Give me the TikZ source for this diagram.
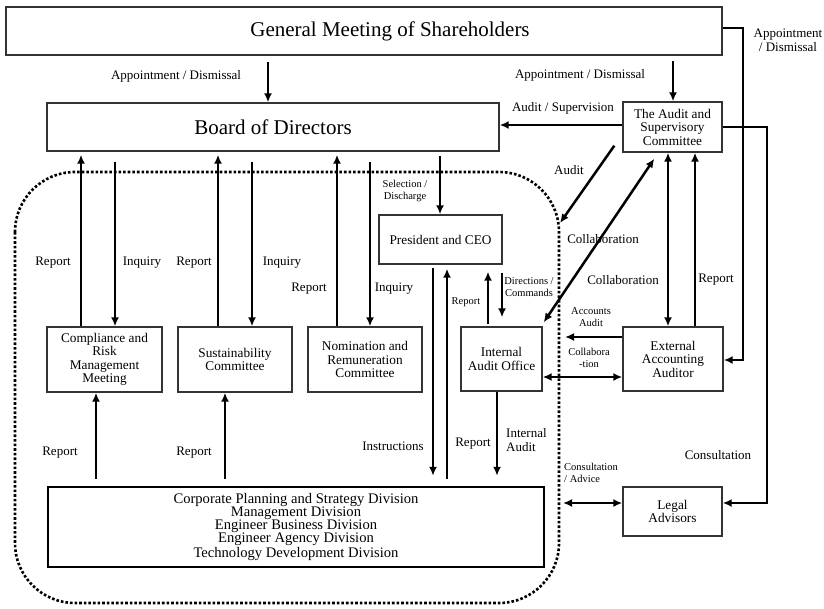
\documentclass[tikz,border=0pt]{standalone}
\usepackage{fontspec}
\setmainfont{Liberation Serif}
\usetikzlibrary{arrows.meta,positioning}

\tikzset{
  box/.style={draw=black!80, line width=1.4pt, inner sep=0pt, align=center,
    font=\fontsize{13.3}{13.5}\selectfont},
  lbl/.style={inner sep=1pt, align=center, font=\fontsize{13}{14}\selectfont},
  slbl/.style={inner sep=1pt, align=center, font=\fontsize{10.5}{12}\selectfont},
  arr/.style={line width=2.5pt, -{Latex[length=9pt,width=8pt]}},
  darr/.style={line width=2.5pt, {Latex[length=9pt,width=8pt]}-{Latex[length=9pt,width=8pt]}}
}

\begin{document}
\begin{tikzpicture}[x=1pt,y=-1pt]
  \useasboundingbox (0,0) rectangle (824,608);
  % boundary of the executive side
  \draw[line width=2.6pt, dotted, rounded corners=60pt] (15,172) rectangle (559,603);

  % boxes
  \node[box, minimum width=716, minimum height=48, font=\fontsize{21}{22}\selectfont] (gm) at (364,31)
    {\hspace*{52pt}General Meeting of Shareholders};
  \node[box, minimum width=452, minimum height=48, font=\fontsize{21}{22}\selectfont] (bod) at (273,127) {Board of Directors};
  \node[box, minimum width=99, minimum height=50] (asc) at (672.5,127) {The Audit and\\Supervisory\\Committee};
  \node[box, minimum width=123, minimum height=49] (pres) at (440.5,239.5) {President and CEO};
  \node[box, minimum width=81, minimum height=64] (ia) at (501.5,359) {Internal\\Audit Office};
  \node[box, minimum width=100, minimum height=64] (eaa) at (673,359) {External\\Accounting\\Auditor};
  \node[box, minimum width=99, minimum height=49] (legal) at (672.5,511.5) {Legal\\Advisors};
  \node[box, minimum width=115, minimum height=65] (cmp) at (104.5,359.5) {Compliance and\\Risk\\Management\\Meeting};
  \node[box, minimum width=114, minimum height=65] (sus) at (235,359.5) {Sustainability\\Committee};
  \node[box, minimum width=114, minimum height=65] (nom) at (365,359.5) {Nomination and\\Remuneration\\Committee};
  \node[box, draw=black, line width=2.4pt, minimum width=496, minimum height=80,
    font=\fontsize{14.6}{13}\selectfont] (divs) at (296,527)
    {Corporate Planning and Strategy Division\\Management Division\\Engineer Business Division\\Engineer Agency Division\\Technology Development Division};

  % free ends at the dotted boundary
  \coordinate (auditend) at (560,223);
  \coordinate (accend) at (565,337);
  \coordinate (advend) at (563,503);

  % shareholders
  \draw[arr, shorten <=6pt] (gm.south -| 268,0) -- (bod.north -| 268,0);
  \draw[arr, shorten <=5pt] (gm.south -| 673,0) -- (asc.north -| 673,0);
  \draw[arr] (gm.east |- 0,28) -| (743,360) -- (eaa.east |- 0,360);
  \node[lbl] at (176,76) {Appointment / Dismissal};
  \node[lbl] at (580,75) {Appointment / Dismissal};
  \node[lbl] at (788,40) {Appointment\\/ Dismissal};

  % audit and supervisory committee
  \draw[arr] (asc.west |- 0,125) -- (bod.east |- 0,125);
  \node[lbl] at (563,108) {Audit / Supervision};
  \draw[arr] (asc.east |- 0,127) -| (767,503) -- (legal.east |- 0,503);
  \node[lbl] at (718,455) {Consultation};
  \draw[arr] ([shift={(-8,-7)}]asc.south west) -- (auditend);
  \node[lbl] at (569,170) {Audit};
  \draw[darr] ([shift={(1,-4)}]ia.north east) -- ([shift={(32,6)}]asc.south west);
  \node[lbl] at (603,239) {Collaboration};
  \draw[darr] (eaa.north -| 668,0) -- (asc.south -| 668,0);
  \node[lbl] at (623,280) {Collaboration};
  \draw[arr] (eaa.north -| 695,0) -- (asc.south -| 695,0);
  \node[lbl] at (716,280) {Report};

  % board and committees
  \foreach \n/\u/\d in {cmp/81/115, sus/218/252, nom/337/370} {
    \draw[arr, shorten >=3pt] (\n.north -| \u,0) -- (bod.south -| \u,0);
    \draw[arr, shorten <=10pt] (bod.south -| \d,0) -- (\n.north -| \d,0);
  }
  \node[lbl] at (53,263) {Report};
  \node[lbl] at (142,263) {Inquiry};
  \node[lbl] at (194,263) {Report};
  \node[lbl] at (282,263) {Inquiry};
  \node[lbl] at (309,289) {Report};
  \node[lbl] at (394,289) {Inquiry};

  % divisions
  \foreach \n/\u in {cmp/96, sus/225}
    \draw[arr, shorten <=7pt] (divs.north -| \u,0) -- (\n.south -| \u,0);
  \node[lbl] at (60,453) {Report};
  \node[lbl] at (194,453) {Report};

  % president
  \draw[arr, shorten <=4pt] (bod.south -| 440,0) -- (pres.north -| 440,0);
  \node[slbl] at (405,191) {Selection /\\Discharge};
  \draw[arr, shorten <=3pt, shorten >=10pt] (pres.south -| 433,0) -- (divs.north -| 433,0);
  \draw[arr, shorten <=7pt, shorten >=4pt] (divs.north -| 447,0) -- (pres.south -| 447,0);
  \node[lbl] at (393,446) {Instructions};
  \node[lbl] at (473,444) {Report};
  \draw[arr, shorten <=2pt, shorten >=7pt] (ia.north -| 488,0) -- (pres.south -| 488,0);
  \draw[arr, shorten <=8pt, shorten >=9pt] (pres.south -| 502,0) -- (ia.north -| 502,0);
  \node[slbl] at (466,302) {Report};
  \node[slbl] at (529,287) {Directions /\\Commands};

  % internal audit office
  \draw[arr, shorten >=10pt] (ia.south -| 497,0) -- (divs.north -| 497,0);
  \node[lbl, align=left, anchor=west] at (505,440) {Internal\\Audit};
  \draw[darr] (ia.east |- 0,377) -- (eaa.west |- 0,377);
  \node[slbl] at (589,358) {Collabora\\-tion};
  \draw[arr] (eaa.west |- 0,337) -- (accend);
  \node[slbl] at (591,317) {Accounts\\Audit};

  % legal advisors
  \draw[darr] (legal.west |- 0,503) -- (advend);
  \node[slbl, align=left, anchor=west] at (563,473) {Consultation\\/ Advice};
\end{tikzpicture}
\end{document}
